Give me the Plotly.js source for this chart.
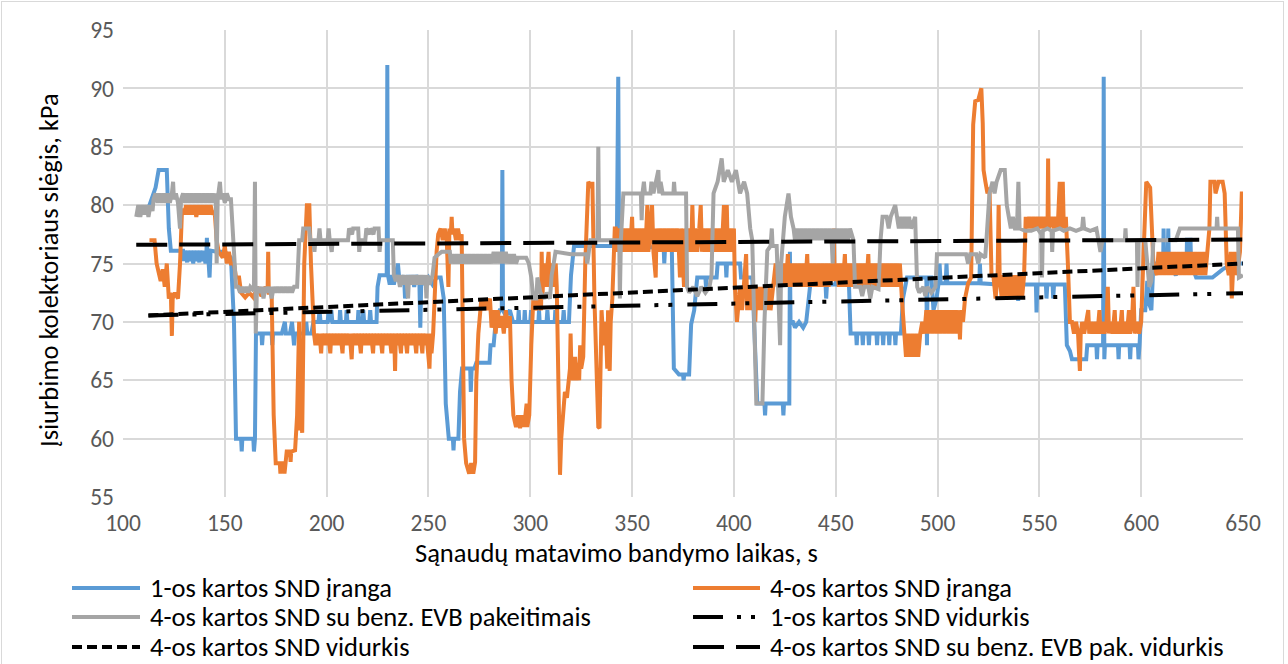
<!DOCTYPE html>
<html>
<head>
<meta charset="utf-8">
<script src="https://cdn.plot.ly/plotly-3.0.1.min.js"></script>
<style>
  html, body { margin: 0; padding: 0; background: #ffffff; }
  #chart { width: 1288px; height: 664px; }
  #frame { position: absolute; left: 1px; top: 1px; width: 1281px; height: 700px;
           border: 1px solid #d9d9d9; pointer-events: none; }
</style>
</head>
<body>
<div id="chart"></div>
<div id="frame"></div>
<script>
// Axis ticks
const timeTicks = [100, 150, 200, 250, 300, 350, 400, 450, 500, 550, 600, 650];
const pressureTicks = [55, 60, 65, 70, 75, 80, 85, 90, 95];

// Series names (legend order)
const seriesNames = [
  "1-os kartos SND įranga",
  "4-os kartos SND įranga",
  "4-os kartos SND su benz. EVB pakeitimais",
  "1-os kartos SND vidurkis",
  "4-os kartos SND vidurkis",
  "4-os kartos SND su benz. EVB pak. vidurkis"
];

// Intake manifold pressure, kPa, vs. test time, s  ([time, pressure])
const gen1Equipment = [
  [112,79.5],[114,80.5],[116,81.5],[117.5,83],[121.5,83],[122.5,78],[123.5,76.1],[129.5,76.1],
  [130,75.2],[130.5,76.1],[131.5,75.1],[132,76.1],[133,75.2],[133.5,76.1],[134.5,75],[135,76.1],
  [136,75.2],[136.5,76.1],[137.5,75.1],[138,76.1],[139,75.2],[139.5,76.1],[140.5,75],[141,76.1],
  [141.2,77.2],[141.5,75.2],[142,75.2],[142.5,73.8],[143,76.1],[146,76],[150,76],[153,75.5],
  [154.5,70],[155.5,60],[158,60],[158.3,58.9],[158.6,60],[164,60],[164.3,58.9],[164.8,60],
  [165.3,69],[168,69],[168.3,68],[168.7,69],[173,69],[173.3,68],[173.7,69],[178,69],[179.5,70],
  [180,69],[182,69],[183,70],[183.5,69],[184,68],[184.5,69],[189,69],[190,70],[190.5,69],
  [192.5,69],[193.5,70],[196,70],[196.5,71],[197,70],[200.5,70],[201,71],[201.5,70],[202.3,71],
  [202.8,70],[206.3,70],[206.6,71],[207,70],[209.5,70],[209.8,71],[210.2,70],[215.3,70],
  [215.6,71],[216,70],[217.7,70],[218,71],[218.4,70],[221,70],[221.4,71],[221.8,70],[224.5,70],
  [225,73],[226,74],[229.5,74],[229.8,92],[230.1,74],[231,73.2],[232,74],[233,73.2],[234,74],
  [235,75],[235.5,74],[237,73.2],[238,74],[238.5,72],[239,73],[240,74],[241,73.2],[242,74],
  [243,73],[244,74],[245,73.5],[245.5,73.8],[246,69.5],[246.5,73.8],[248,73.2],[250,73.8],
  [252,73.2],[254,73.8],[256,73.8],[257.5,72],[258.5,63],[259.5,61],[260,60],[262,60],
  [262.3,59],[262.6,60],[264.7,60],[265.5,64],[266.5,66],[270.5,66],[270.8,64],[271.2,66],
  [272.5,66],[273.5,66.5],[280,66.5],[280.5,68],[282,68],[283,70],[285,71],[286,71],[286.3,83],
  [286.6,71],[288,70.5],[290,71],[291.5,70],[294,70],[294.3,71],[294.6,70],[297,70],[297.3,71],
  [297.6,70],[300,70],[300.4,71],[300.8,70],[304,70],[304.3,71],[304.6,70],[308,70],[308.4,71],
  [308.8,70],[312,70],[312.3,71],[312.6,70],[316,70],[316.4,71],[316.8,70],[319,70],[320,74],
  [321.5,76.5],[340,76.5],[342.5,76.5],[343.2,91],[343.6,76.5],[350,76.4],[360,76.4],
  [365.5,76.4],[365.8,75],[366.2,76.4],[369.5,76.4],[370.5,66],[373,65.5],[375,65.5],[375.3,65],
  [375.6,65.5],[378,65.5],[379,69.8],[380.5,71],[382,73.8],[386,73.8],[386.3,73],[386.6,73.8],
  [391.5,73.8],[392,75],[396,75],[396.3,73.8],[396.6,75],[403,75],[403.5,73.8],[409,73.8],
  [410.5,68],[411.5,63],[415,63],[415.3,62],[415.6,63],[424,63],[424.3,62],[424.6,63],
  [427.2,63],[427.5,76],[427.8,70],[429,70],[430,69.5],[432,70],[434,69.5],[435.5,70],[436,71],
  [437.5,73.2],[441,73.2],[441.3,73.8],[441.6,73.2],[445,73.2],[445.3,72],[445.7,73.2],
  [450,73.2],[450.3,73.8],[450.6,73.2],[456.5,73.2],[457.3,69],[460,69],[460.3,68],[460.6,69],
  [463,69],[463.3,68],[463.6,69],[466,69],[466.3,68],[466.6,69],[470,69],[470.3,68],[470.6,69],
  [473,69],[473.3,68],[473.6,69],[476,69],[476.3,68],[476.6,69],[479,69],[479.3,68],[479.6,69],
  [482,69],[483,72],[485,73.8],[490,73.8],[494.5,73.8],[494.8,68],[495.1,73.8],[497,73.8],
  [498,71],[499.5,72],[500.5,73.3],[501,75],[501.5,73.3],[504,73.3],[504.4,75],[504.8,73.3],
  [510,73.3],[515,73.3],[520.5,73.3],[520.8,75],[521.2,73.3],[530,73.2],[539.3,73.2],
  [539.6,71.8],[540,73.2],[548.3,73.2],[548.6,70.8],[549,73.2],[553.2,73.2],[553.5,72],
  [553.9,73.2],[556.5,73.2],[556.8,72],[557.2,73.2],[562.5,73.2],[563.5,68],[565,67.5],
  [566,66.8],[573,66.8],[573.5,68],[578,68],[578.3,66.8],[578.6,68],[581.3,68],[581.6,91],
  [581.9,66.8],[582.2,68],[588.6,68],[588.9,66.8],[589.2,68],[594.3,68],[594.6,66.8],
  [594.9,68],[598.4,68],[598.7,66.8],[599.2,68],[600,71],[602,71],[603,73.5],[604,71.5],
  [605,71],[606,75],[607,75],[610.8,75],[611,78],[611.3,75],[613,75],[613.3,78],[613.6,75],
  [617,74],[620,75],[622.3,75],[622.5,77.2],[622.7,75],[624,75],[624.2,77.2],[624.5,75],
  [627,73.8],[635,73.8],[640,74.5],[645,75],[650,75]
];

const gen4Equipment = [
  [113,77],[115.5,77],[116.5,75],[117.5,74],[118.5,73.5],[119.5,74.5],[120.5,73],[121.5,75],
  [122.5,72],[123.5,72.5],[124,68.8],[124.4,72],[125.5,72.5],[127,72],[128,75],[129,79.7],
  [130,79.2],[131,80],[132,79.2],[133,80],[134,79.2],[135,80],[136,79],[137,80],[138,79.2],
  [139,80],[140,79.2],[141,80],[142,79.2],[143,80],[144,79.2],[145,79.5],[146,77],[147,76],
  [149,75.5],[150,76.5],[151,75],[152,76],[153,75],[154.5,75],[155.5,73.8],[157,73.8],
  [158,72.5],[160,72.1],[162,72.5],[164,72.1],[166,73],[168,72.2],[170,73],[171,72.5],
  [171.3,76],[171.6,72.5],[173,72.5],[174,62],[175,57.9],[177,57.9],[177.3,57],[177.6,57.9],
  [179,57.9],[179.3,57],[179.7,57.9],[180.4,58.9],[182,58.9],[182.3,58],[182.6,58.9],
  [184.5,59],[185.5,62],[186.5,70],[187,60.7],[187.5,61.9],[188,60.5],[189,75],[190.3,80],
  [191.5,80],[192.3,75],[193,72],[193.8,69],[194.5,68],[195,69],[196,68],[196.5,69],
  [197.3,67.3],[197.8,69],[198.8,68],[199.3,69],[200.3,68],[200.8,69],[201.8,67.3],[202.3,69],
  [203.3,68],[203.8,69],[204.8,68],[205.3,69],[206.3,68],[206.8,69],[207.8,67.3],[208.3,69],
  [209.3,68],[209.8,69],[210.8,68],[211.3,69],[212.3,66.8],[212.8,69],[213.8,68],[214.3,69],
  [215.3,68],[215.8,69],[216.8,67.3],[217.3,69],[218.3,68],[218.8,69],[219.8,68],[220.3,69],
  [221.3,68],[221.8,69],[222.8,67.3],[223.3,69],[224.3,68],[224.8,69],[225.8,68],[226.3,69],
  [227.3,67.3],[227.8,69],[228.8,68],[229.3,69],[230.3,68],[230.8,69],[231.8,67.3],[232.3,69],
  [233.3,68],[233.6,65.8],[234,69],[235,68],[235.5,69],[236.5,67.3],[237,69],[238,68],
  [238.5,69],[239.5,67.3],[240,69],[241,68],[241.5,69],[242.5,68],[243,69],[244,67.3],
  [244.5,69],[245.5,68],[246,69],[247,67.3],[247.5,69],[248.5,68],[249,69],[250.5,66],
  [251,69],[251.5,67.3],[252.3,69],[253,73],[254,76],[254.8,77.5],[256,78],[257,77],[258,78],
  [259,77],[259.8,73],[260.3,78],[261,77.5],[261.4,79],[261.8,77.5],[262.5,78],[263.5,77],
  [264.5,78],[265.5,77],[266.3,77.5],[267,68],[267.5,60],[268.5,57.9],[270,57],[271,57.9],
  [272,57],[272.9,58],[273.5,65],[274.5,69],[275.3,71],[276,72],[277,71],[278,72],[279,71],
  [280.2,72],[281,69.5],[282,71],[283,69],[284,71],[285,69.5],[286,70.5],[287,69],[288,71],
  [289,69.5],[290,70.5],[290.8,65],[291.7,62],[293,61],[294,62],[295,60.9],[296,62],[297,61],
  [298.2,63],[298.5,61],[299.5,62],[300.5,68],[301.5,72],[303,71],[304,72],[305.3,71],
  [305.6,76],[306,72],[306.5,75],[307.5,73],[308.5,75],[309,76],[309.5,73],[310.5,75],
  [311.5,73],[312.5,75],[313,73],[313.8,65],[314.6,56.9],[315.2,60],[316.2,63],[317,64],
  [318,63.5],[319.5,66],[319.8,69],[320.2,66],[321,65],[322,67],[322.8,65],[323,66.5],
  [324,65],[324.5,68],[325,66],[326,67],[327,75],[328.5,82],[330,81.5],[330.5,82],[331.5,72],
  [332.5,66],[333.4,61],[334,60.9],[334.6,66],[335,71],[336,68],[337,70],[337.8,66],[338.2,71],
  [339,65.8],[339.5,70],[340.3,72],[341.5,78],[342,78],[343,76],[344,78],[345,76],[346,78],
  [347,76],[348,78],[349,76],[350,79],[350.5,76],[351.5,78],[352.5,76],[353.5,78],[354.5,76],
  [355.5,78],[356.5,76],[357.5,80],[358,76],[359,78],[359.8,80],[360.5,76],[361.6,73.8],
  [362,78],[363,76],[364,78],[365,76],[366,78],[367,76],[368,78],[369,76],[370,78],[371,76],
  [372,78],[373,76],[373.5,73.8],[374,78],[374.7,76],[375.5,73],[376,78],[377,76],[378,78],
  [379,76],[379.6,80],[380.2,76],[381,78],[382,76],[383,78],[383.7,80],[384.3,76],[385,78],
  [386,76],[387,78],[388,76],[389,78],[390,76],[391,78],[392,76],[393,78],[394,76],[395.1,80],
  [395.8,76],[396.5,80],[397,76],[398,78],[399,76],[400,78],[400.5,73],[401.5,70],[402.5,72],
  [403,73],[404,71],[405,73],[406,75.8],[406.5,71],[407.5,73],[408.5,71],[409.5,73],[410.5,70],
  [411,73],[412,71],[413,73],[414,71],[415,73],[416,71],[417,73],[418,71],[419.4,73],
  [420.5,75],[421.5,73],[422.5,75],[423.5,73],[424.5,75],[425.5,73],[426.5,75.8],[427,73],
  [428,75],[429,73],[430,75],[431,73],[432,75],[433,73],[434,75],[435,73],[436,75.8],[436.5,73],
  [437.5,75],[438.5,73],[439.5,75],[440.5,73],[441.5,75],[442.5,73],[443.5,75],[444.5,73],
  [445.5,75],[446.5,73],[447.5,75],[448.5,73.5],[449,78],[449.5,73.5],[450.5,75],[451.5,73],
  [452.5,75],[453.5,73],[454.5,75.8],[455,73],[456,75],[457,73],[458,75],[459,73],[460,75],
  [461,73],[462,75],[463,73],[464,75],[465,73],[466,75.8],[466.5,73],[467.5,75],[468.5,73],
  [469.5,75],[470.5,73],[471.5,75],[472.5,73],[473.5,75],[474.5,73],[475.5,75],[476.5,73],
  [477.5,75],[478.5,73],[479.5,75],[480.5,73],[481.5,75],[482.5,72],[483.5,69],[484.5,67],
  [485.5,69],[486.5,67],[487.5,69],[488.5,67],[489.5,69],[490.5,67],[491.5,69],[492.5,70],
  [493.5,69],[494.5,71],[495.5,69],[496.5,71],[497.5,69],[498.5,71],[499.5,69],[500.5,71],
  [501.5,69],[502.5,71],[503.5,69],[504.5,71],[505.5,69],[506.5,71],[507.5,69],[508.5,71],
  [509.5,69],[510.5,71],[511,68.5],[511.5,71],[512.5,70],[513.5,72],[515,73.3],[516.5,73.8],
  [517.5,86.9],[518.5,88.9],[520,89],[521.5,90],[522.2,87],[522.6,83],[523.5,82],[524.5,81],
  [525.5,81.5],[526.5,74],[527.5,73.8],[528.5,72],[529.5,74],[530,80],[530.5,74],[531.5,72],
  [532.5,74],[533.5,72],[534.5,74],[535.5,72],[536.5,74],[537.5,72],[538.5,74],[539.5,72],
  [540.5,74],[541.5,72],[542.5,74],[543.3,79],[544,78],[545,79],[546,78],[547,79],[548,78],
  [549,79],[550,78],[551,79],[552,78],[553,79],[554,78],[554.3,84],[554.6,78],[556,79],[557,78],
  [558,79],[559,78],[560,82],[560.5,78],[561.5,82],[562,78],[563,79],[564,75],[565,70],[566,70],
  [567,69],[568,70],[569,69],[569.9,65.8],[570.3,69],[571,70],[572,69],[573,70],[574,71],
  [574.5,69],[575.5,70],[576.5,69],[577.5,70],[578.5,69],[579.5,71],[580,69],[581,70],[582,69],
  [583,70],[583.6,73],[584.2,69],[585,70],[586,69],[587,71],[587.5,69],[588.5,70],[589.5,69],
  [590.5,71],[591,69],[592,70],[593,69],[594,71],[594.5,69],[595.5,70],[596.2,73],[596.8,69],
  [598,70],[599,69],[600,70],[601.2,76],[602.5,82],[604.4,81.5],[605.2,78],[606,75],[607.7,74],
  [608.5,76],[609.5,74],[610.5,76],[611.5,74],[612.5,76],[613.5,74],[614.5,76],[615.5,74],
  [616.5,76],[617.5,74],[618.5,76],[619.5,74],[620.5,76],[621.5,74],[622.5,76],[623.5,74],
  [624.5,76],[625.5,74],[626.5,76],[627.5,74],[628.5,76],[629.5,74],[630.5,76],[631.5,74],
  [632.5,76],[633.5,78],[634,82],[636,82],[636.5,81],[638,82],[640,82],[641,81],[642,75],
  [643,74],[644,76],[644.5,72],[645,74],[646,76],[647,74],[648.5,76],[649.4,81],[650,81]
];

const gen4EvbChanges = [
  [106.5,79],[107.5,80],[108.5,79],[109.5,80],[110.5,79.2],[111.5,80],[112.5,79],[113.5,80],
  [114.5,79.5],[115,80.5],[116,81],[117,80.2],[118,81],[119,80.2],[120,81],[121,80.2],[122,81],
  [123,80.2],[124,81],[124.6,82],[125,80.5],[126,81],[127,80.2],[128,78],[128.5,80.5],
  [129.5,81],[130.5,80.2],[131.5,81],[132.5,80.2],[133.5,81],[134.5,80.2],[135.5,81],
  [136.5,80.2],[137.5,81],[138.5,80.2],[139.5,81],[140.5,80.2],[141.5,81],[142.5,80.2],
  [143.5,81],[144.5,80.2],[145.5,81],[146,75],[146.5,80.5],[147.6,82],[148.2,80.5],[149,81],
  [150,80.2],[151,81],[152,80.5],[153,80.5],[154.5,75],[155.5,73],[156.5,73],[157.5,72.5],
  [158.5,73],[159.5,72.5],[160.5,73],[161.5,72.5],[162.5,73],[163.5,72.8],[164.3,73],[164.8,82],
  [165.2,69],[165.8,73],[167,72.5],[168,73],[169,72],[170,73],[171,72.5],[172,73],[173,72],
  [174,73],[175,72.5],[176,73],[177,72.5],[178,73],[179,72.5],[180,73],[181,72.5],[182,73],
  [183,72.5],[184,73],[185.5,73],[186,75],[186.5,77],[188,77],[188.5,78],[191.5,78],[192,77],
  [193.5,77],[194,76],[194.5,77],[196,77],[196.5,78],[197,77],[200.5,77],[201,78],[201.5,77],
  [202.5,76],[203,77],[210.5,77],[211,78],[212.5,77.5],[213,78],[215.5,78],[216,76],[216.5,77],
  [219,77],[219.5,78],[221,77.5],[221.5,78],[223,77.5],[223.5,78],[225.5,78],[226,76],
  [226.5,77],[232.5,77],[233,74],[234,73.5],[235,74],[236,73],[237,74],[238,73.2],[239,74],
  [240,72],[240.5,74],[241.5,73.2],[242.5,74],[243.5,73.2],[244.5,74],[245.5,73.2],[246.5,74],
  [247.5,73.2],[248.5,74],[249,72],[249.5,74],[250.5,73.2],[252,74],[253,75.5],[255,75.8],
  [256.5,76],[260.5,76],[261,75],[262,75.8],[263,75],[264,75.8],[265,75],[266,75.8],[267,75],
  [268,75.8],[269,75],[270,75.8],[271,75],[272,75.8],[273,75],[274,75.8],[275,75],[276,75.8],
  [277,75],[278,75.8],[279,75],[280,75.8],[281,75],[282,76],[283,75],[284,76],[285,75],
  [286,76],[287,75],[288,76],[289,75],[290,75.8],[291,75],[292,75.8],[293,75],[294,75.5],
  [296,75.5],[298,75.5],[299.3,75],[300.5,73.8],[301.5,72],[303,72],[303.5,73.8],[305,72.5],
  [307,72],[308,72.5],[309.7,72],[310.5,74],[311.5,75],[312.4,76],[320,75.8],[325,75.8],
  [327.5,75.8],[328,75],[328.7,76],[329.5,77],[333,77],[333.4,85],[333.8,77],[343.7,77],
  [344,72],[344.5,77],[345.7,81],[350,81],[354.3,81],[354.7,78.7],[355.1,81],[355.8,82],
  [356.3,81],[359,81],[359.5,82],[360.5,81],[362.9,83],[363.3,81],[364,82],[365,81],[370.3,81],
  [370.6,82],[371,81],[376.5,81],[377,73],[378,72.5],[380,73],[382,72.2],[384,73],[386,72.5],
  [388,73],[389,74],[390,81],[392,82],[394,84],[395,82],[397,83],[399,82],[401,83],[403,81],
  [405,82],[406.5,81],[408,78],[409,77],[410,70],[411,63],[414,63],[415,70],[416.4,76.1],
  [418,76.5],[418.6,78],[419,76.5],[421,76.5],[422.7,68],[423.2,75],[425,79],[426.8,81],
  [428,79],[429.3,78],[430,77],[431,78],[432,77],[433,78],[434,77],[435,78],[436,77],[437,78],
  [438,77],[439,78],[440,77],[441,78],[442,77],[443,78],[444,77],[445,78],[446,77],[447,78],
  [448,77],[448.5,75],[449,78],[450,77],[451,78],[452,77],[453,78],[454,77],[455,78],[456,77],
  [457,78],[458.7,77],[459.5,73],[462,73],[463,72.2],[464,73],[466,73],[467,72],[468,73],
  [471,72.8],[472,77],[473,79],[475,79],[476,78],[477,79],[479.2,80],[480,79],[481,78],[482,79],
  [483,78],[484,79],[485,78],[486,79],[487,78],[489,79],[490,73],[491,72.5],[493,73],[494,72.2],
  [495,73],[497,72.5],[499,73],[499.7,75.8],[505,75.8],[510,75.8],[514,75.8],[515,75],
  [516,75.8],[519,75.8],[520,75],[521,75.8],[523.4,75.5],[524,77],[525.5,81],[527,82],[528,81],
  [529,82],[530,82.5],[531,83],[533,83],[534,80],[535,79],[536,78],[537,79],[538,78],[539,78],
  [539.7,82],[540.3,78],[543,77.8],[546,77.8],[549,78],[551,77.5],[551.3,73.8],[551.7,77.8],
  [554,78],[556,77.8],[556.3,76],[556.7,77.8],[560,78],[562,77.8],[565,78],[568,77.8],[571,78],
  [571.5,79],[572,78],[575,77.8],[578,78],[580,76],[581,77],[587,77],[592,77],[592.3,78],
  [592.6,77],[597.9,77],[598.2,73],[598.6,77],[602,77],[604,73],[605,73.5],[606,77],[617,77],
  [619,78],[630,78],[637,78],[637.3,79],[637.6,78],[647.5,78],[648,73.8],[650,74]
];

// Linear trend lines (start and end points)
const gen1Trend = [[112.5, 70.55], [650, 72.45]];
const gen4Trend = [[112.5, 70.55], [650, 75.0]];
const evbTrend  = [[106.5, 76.6], [650, 77.05]];

const FONT = "Carlito, Lato, 'Liberation Sans', sans-serif";
const colors = ["#5B9BD5", "#ED7D31", "#A5A5A5", "#000000", "#000000", "#000000"];
const dashes = ["solid", "solid", "solid",
                "30px,14px,4px,10px,4px,15px", "10px,5px", "31px,12px"];
const series = [gen1Equipment, gen4Equipment, gen4EvbChanges, gen1Trend, gen4Trend, evbTrend];

const traces = series.map((pts, i) => ({
  type: "scatter",
  mode: "lines",
  name: seriesNames[i],
  x: pts.map(p => p[0]),
  y: pts.map(p => p[1]),
  line: { color: colors[i], width: 4, dash: dashes[i] },
  showlegend: false,
  hoverinfo: "skip"
}));

// Plot-area geometry in pixels
const M = { l: 123, r: 45, t: 30, b: 167 };
const W = 1288, H = 664;
const PW = W - M.l - M.r, PH = H - M.t - M.b;
const px = x => (x - M.l) / PW;
const py = y => (H - M.b - y) / PH;

// Legend: two columns, three rows
const legendCols = [{ x0: 72, x1: 140, tx: 148 }, { x0: 693, x1: 760, tx: 768 }];
const legendRows = [588, 617, 647];
const shapes = [];
const annotations = [];
seriesNames.forEach((name, i) => {
  const c = legendCols[i % 2];
  const y = legendRows[Math.floor(i / 2)];
  shapes.push({
    type: "line", xref: "paper", yref: "paper",
    x0: px(c.x0), x1: px(c.x1), y0: py(y), y1: py(y),
    line: { color: colors[i], width: 4, dash: dashes[i] }
  });
  annotations.push({
    xref: "paper", yref: "paper", x: px(c.tx), y: py(y),
    xanchor: "left", yanchor: "middle", showarrow: false,
    text: name, font: { family: FONT, size: 26.5, color: "#000000" }
  });
});

// Axis titles
annotations.push({
  xref: "paper", yref: "paper", x: px(616), y: py(553),
  xanchor: "center", yanchor: "middle", showarrow: false,
  text: "Sąnaudų matavimo bandymo laikas, s",
  font: { family: FONT, size: 26.5, color: "#000000" }
});
annotations.push({
  xref: "paper", yref: "paper", x: px(49), y: py(270),
  xanchor: "center", yanchor: "middle", showarrow: false, textangle: -90,
  text: "Įsiurbimo kolektoriaus slėgis, kPa",
  font: { family: FONT, size: 26.5, color: "#000000" }
});

const layout = {
  width: W, height: H,
  margin: M,
  paper_bgcolor: "rgba(0,0,0,0)",
  plot_bgcolor: "#ffffff",
  showlegend: false,
  xaxis: {
    range: [100, 650], tickvals: timeTicks, ticktext: timeTicks.map(String),
    showgrid: true, gridcolor: "#d9d9d9", gridwidth: 2,
    zeroline: false, showline: false, ticks: "",
    ticklabelstandoff: 9,
    tickfont: { family: FONT, size: 23.5, color: "#595959" }
  },
  yaxis: {
    range: [55, 95], tickvals: pressureTicks, ticktext: pressureTicks.map(String),
    showgrid: true, gridcolor: "#d9d9d9", gridwidth: 2,
    zeroline: false, showline: false, ticks: "",
    ticklabelstandoff: 8,
    tickfont: { family: FONT, size: 23.5, color: "#595959" }
  },
  shapes: shapes,
  annotations: annotations
};

Plotly.newPlot("chart", traces, layout, { staticPlot: true, displayModeBar: false });
</script>
</body>
</html>
